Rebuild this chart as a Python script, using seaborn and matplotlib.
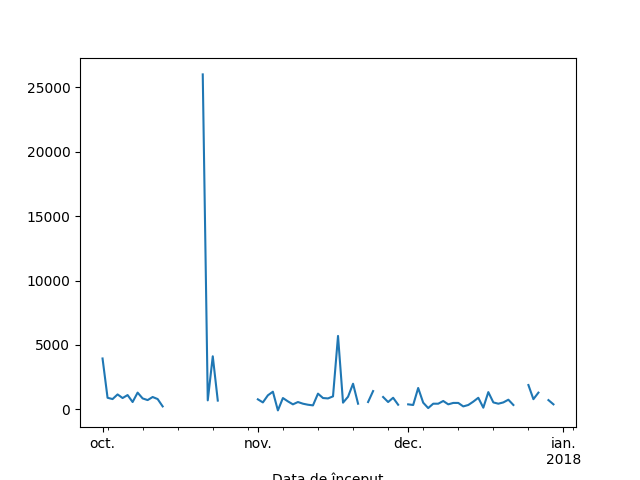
import numpy as np
import pandas as pd
import matplotlib
matplotlib.use('Agg')
import matplotlib.pyplot as plt
import matplotlib.dates as mdates
import seaborn as sns

nan = np.nan

# daily values, 1 Oct 2017 - 30 Dec 2017 (gaps are missing days)
oct_vals = [3950, 900, 800, 1160, 880, 1110, 570, 1300, 850, 720, 960, 800, 230,
            nan, nan, nan, nan, nan, nan, nan,
            26000, 700, 4120, 680,
            nan, nan, nan, nan, nan, nan, nan]
nov_vals = [780, 540, 1090, 1370, -80, 880, 620, 390, 570, 440, 360, 310, 1220, 880,
            850, 1010, 5700, 520, 980, 1990, 440, nan, 570, 1420, nan, 960, 570, 900,
            360, nan]
dec_vals = [390, 340, 1660, 520, 100, 440, 440, 650, 390, 500, 500, 230, 340, 600,
            900, 130, 1340, 540, 440, 540, 750, 340, nan, nan, 1890, 790, 1300, nan,
            720, 390]

dates = pd.date_range('2017-10-01', '2017-12-30', freq='D')
values = oct_vals + nov_vals + dec_vals

major_dates = ['2017-10-01', '2017-11-01', '2017-12-01', '2018-01-01']
major_labels = ['oct.', 'nov.', 'dec.', 'ian.\n2018']

df = pd.DataFrame({'Data de început': dates, 'valoare': values})
# split into runs so the missing days stay as gaps
df['seg'] = df['valoare'].isna().cumsum()
df = df.dropna()

fig, ax = plt.subplots(figsize=(6.4, 4.8), dpi=100)
sns.lineplot(data=df, x='Data de început', y='valoare', units='seg',
             estimator=None, color='#1f77b4', linewidth=1.5, ax=ax)

minor = list(pd.date_range('2017-09-25', '2018-01-01', freq='W-MON')) + [pd.Timestamp('2018-01-03')]
ax.xaxis.set_minor_locator(matplotlib.ticker.FixedLocator(mdates.date2num(minor)))
ax.set_xticks(mdates.date2num(pd.to_datetime(major_dates)))
ax.set_xticklabels(major_labels)
ax.set_xlabel('Data de început')
ax.set_ylabel('')

plt.savefig('out.png')
